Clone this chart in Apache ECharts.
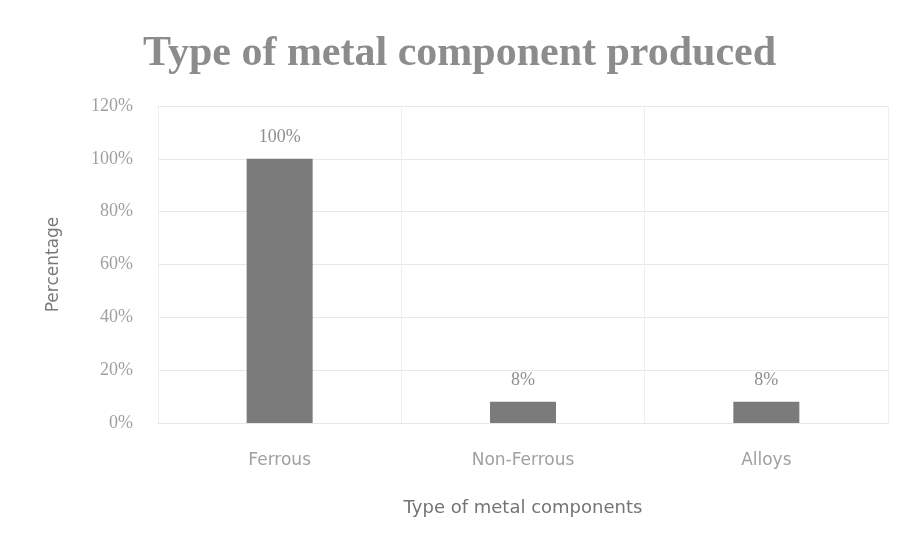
<!DOCTYPE html>
<html>
<head>
<meta charset="utf-8">
<script src="https://cdn.jsdelivr.net/npm/echarts@6/dist/echarts.min.js"></script>
<style>
  html, body { margin: 0; padding: 0; background: #ffffff; }
  #chart { width: 904px; height: 548px; }
</style>
</head>
<body>
<div id="chart"></div>
<script>
// Share of respondents producing each metal component type
const categories = ['Ferrous', 'Non-Ferrous', 'Alloys'];
const percentages = [100, 8, 8];
const yTicks = [0, 20, 40, 60, 80, 100, 120];

const chart = echarts.init(document.getElementById('chart'));
chart.setOption({
  backgroundColor: '#ffffff',
  animation: false,
  title: {
    text: 'Type of metal component produced',
    left: 138,
    top: 28,
    textStyle: {
      fontFamily: 'Liberation Serif',
      fontSize: 42,
      fontWeight: 'bold',
      color: '#8c8c8c'
    }
  },
  grid: { left: 158, right: 16, top: 106, bottom: 125, containLabel: false },
  xAxis: {
    type: 'category',
    data: categories,
    name: 'Type of metal components',
    nameLocation: 'middle',
    nameGap: 76,
    nameTextStyle: { fontFamily: 'DejaVu Sans', fontSize: 18, color: '#747474' },
    axisLine: { show: true, lineStyle: { color: '#e6e6e6' } },
    axisTick: { show: false },
    axisLabel: { margin: 29, fontFamily: 'DejaVu Sans', fontSize: 17, color: '#a0a0a0' },
    splitLine: { show: true, lineStyle: { color: '#efefef', width: 1 } }
  },
  yAxis: {
    type: 'value',
    min: yTicks[0],
    max: yTicks[yTicks.length - 1],
    interval: 20,
    name: 'Percentage',
    nameLocation: 'middle',
    nameGap: 96,
    nameTextStyle: { fontFamily: 'DejaVu Sans', fontSize: 17, color: '#7a7a7a' },
    axisLine: { show: false },
    axisTick: { show: false },
    axisLabel: {
      margin: 25,
      fontFamily: 'Liberation Serif',
      fontSize: 18,
      color: '#a0a0a0',
      formatter: v => v + '%'
    },
    splitLine: { show: true, lineStyle: { color: '#e8e8e8', width: 1 } }
  },
  series: [{
    type: 'bar',
    data: percentages,
    barWidth: 66,
    itemStyle: { color: '#7b7b7b' },
    label: {
      show: true,
      position: 'top',
      distance: 13,
      fontFamily: 'Liberation Serif',
      fontSize: 18,
      color: '#8e8e8e',
      formatter: p => p.value + '%'
    }
  }]
});
</script>
</body>
</html>
